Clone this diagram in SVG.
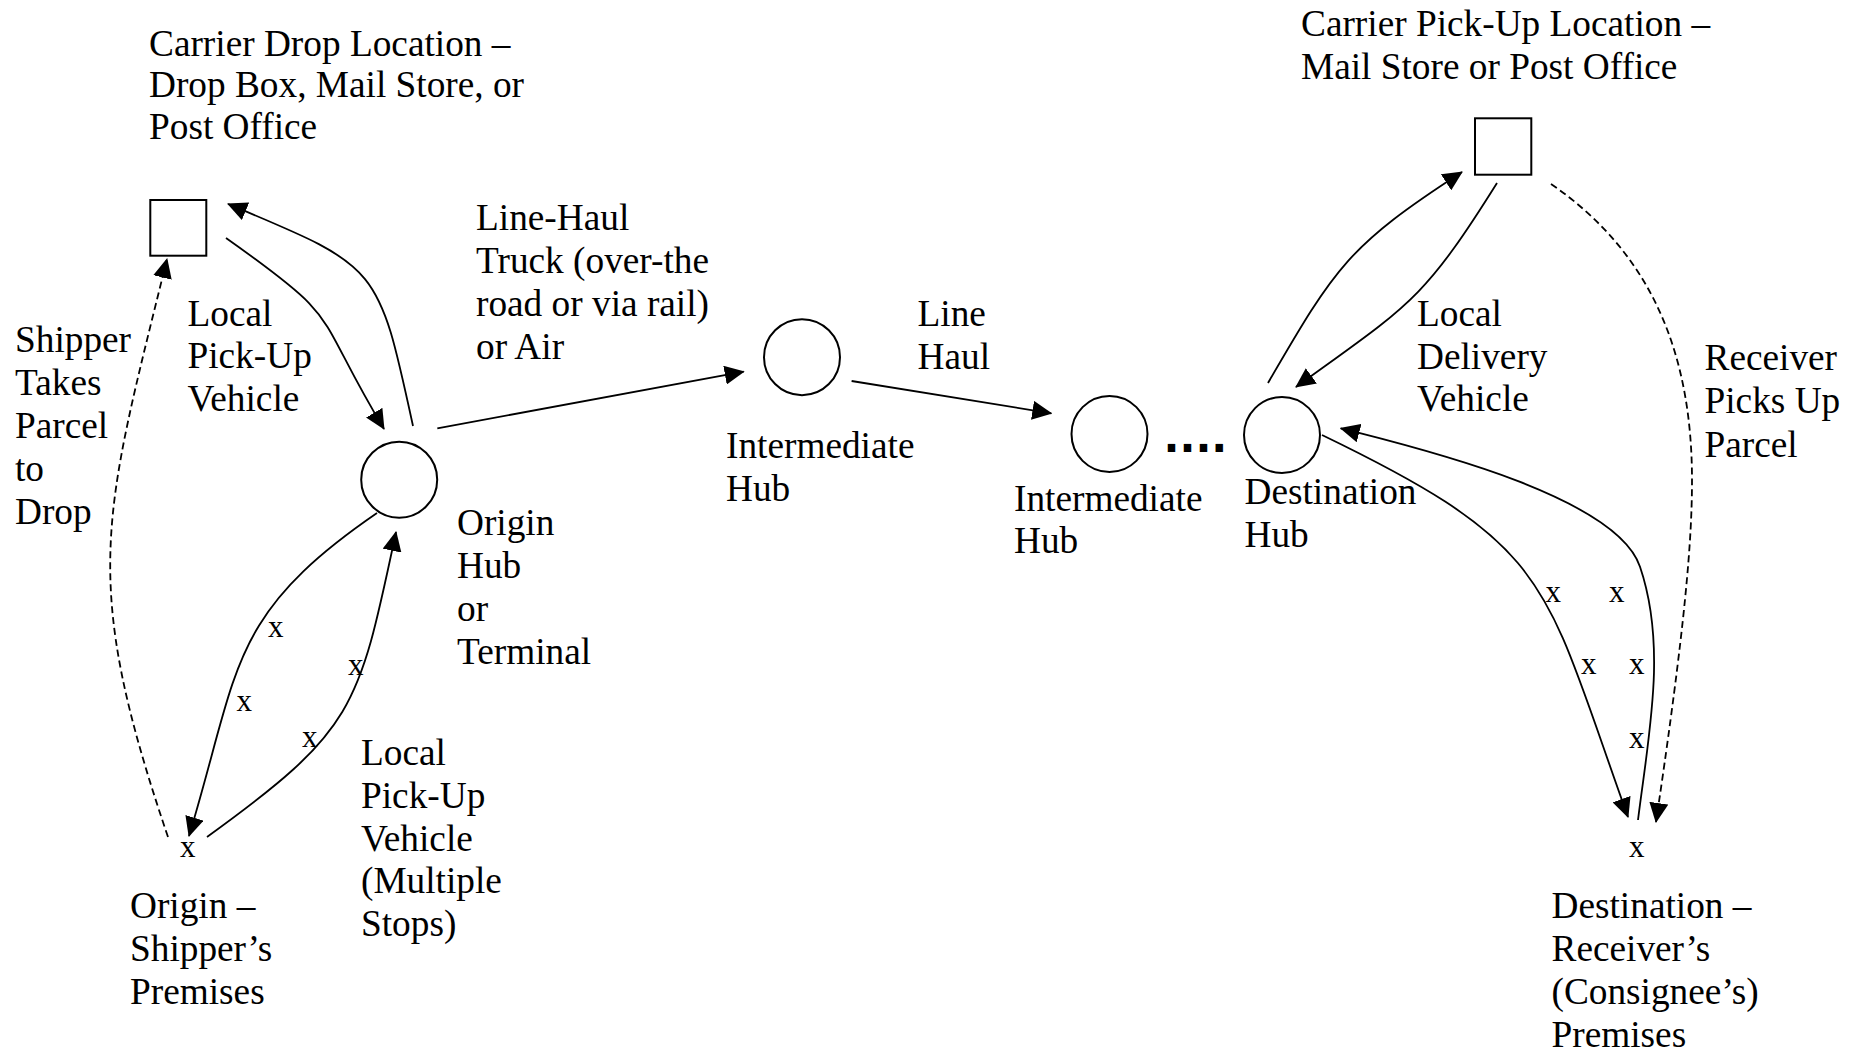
<svg xmlns="http://www.w3.org/2000/svg" width="1865" height="1054" viewBox="0 0 1865 1054">
<style>
text{font-family:"Liberation Serif","Times New Roman",serif;font-size:37.3px;fill:#000}
.sx{font-size:31px}
.dots{font-family:"DejaVu Sans",sans-serif;font-size:42px;font-weight:bold;letter-spacing:0px}
.node{fill:#fff;stroke:#000;stroke-width:2}
.c{fill:none;stroke:#000;stroke-width:1.8}
.d{stroke-dasharray:7 4}
</style>
<defs>
<marker id="ah" markerUnits="userSpaceOnUse" viewBox="0 0 20 19" markerWidth="20" markerHeight="19" refX="19" refY="9.5" orient="auto">
<path d="M0,0 L20,9.5 L0,19 z" fill="#000"/>
</marker>
</defs>
<rect width="1865" height="1054" fill="#fff"/>

<g id="connectors">
<path class="c" marker-end="url(#ah)" d="M226,238 C347,323.6 311,307.5 384,429"/>
<path class="c" marker-end="url(#ah)" d="M413,426 C378,264 379,267 228,204"/>
<path class="c" marker-end="url(#ah)" d="M377,513 C227,616 240,668 189,836"/>
<path class="c" marker-end="url(#ah)" d="M207,837 C355,730 358.5,709 396,532"/>
<path class="c d" marker-end="url(#ah)" d="M168,837 C80,578 103,519 167,259"/>
<path class="c" marker-end="url(#ah)" d="M437.3,428.3 L743.7,371.7"/>
<path class="c" marker-end="url(#ah)" d="M851.6,381 L1051.3,413.3"/>
<path class="c" marker-end="url(#ah)" d="M1268,383 C1336,266 1348,246 1462,172"/>
<path class="c" marker-end="url(#ah)" d="M1497,183 C1422.5,302 1409,305 1296,387"/>
<path class="c d" marker-end="url(#ah)" d="M1551,184 C1653,254 1692,356 1692,480 C1692,540 1685.4,624 1656,822"/>
<path class="c" marker-end="url(#ah)" d="M1322,435 C1556,548 1543,581 1628,817"/>
<path class="c" marker-end="url(#ah)" d="M1638,820 C1648.4,735.6 1667.3,647.2 1640,566.7 C1615,493 1401,444 1340.7,428.3"/>
</g>

<g id="edge-labels">
<text x="187.5"><tspan x="187.5" y="325.7">Local</tspan><tspan x="187.5" y="368.3">Pick-Up</tspan><tspan x="187.5" y="411">Vehicle</tspan></text>
<text x="15"><tspan x="15" y="351.5">Shipper</tspan><tspan x="15" y="394.5">Takes</tspan><tspan x="15" y="437.5">Parcel</tspan><tspan x="15" y="480.5">to</tspan><tspan x="15" y="523.5">Drop</tspan></text>
<text x="361"><tspan x="361" y="765">Local</tspan><tspan x="361" y="808">Pick-Up</tspan><tspan x="361" y="850.5">Vehicle</tspan><tspan x="361" y="893">(Multiple</tspan><tspan x="361" y="936">Stops)</tspan></text>
<text x="476"><tspan x="476" y="230">Line-Haul</tspan><tspan x="476" y="273">Truck (over-the</tspan><tspan x="476" y="316">road or via rail)</tspan><tspan x="476" y="359">or Air</tspan></text>
<text x="917.5"><tspan x="917.5" y="325.7">Line</tspan><tspan x="917.5" y="369">Haul</tspan></text>
<text x="1417"><tspan x="1417" y="326">Local</tspan><tspan x="1417" y="368.5">Delivery</tspan><tspan x="1417" y="411">Vehicle</tspan></text>
<text x="1704.5"><tspan x="1704.5" y="370">Receiver</tspan><tspan x="1704.5" y="413">Picks Up</tspan><tspan x="1704.5" y="456.5">Parcel</tspan></text>
<text class="sx" x="268" y="636.7">x</text>
<text class="sx" x="236.5" y="711">x</text>
<text class="sx" x="348" y="675">x</text>
<text class="sx" x="302" y="747.3">x</text>
<text class="sx" x="1545.5" y="601.7">x</text>
<text class="sx" x="1609" y="601.7">x</text>
<text class="sx" x="1581" y="674.3">x</text>
<text class="sx" x="1629" y="674.3">x</text>
<text class="sx" x="1629" y="748.3">x</text>
<text class="dots" x="1163.5" y="451.7">....</text>
</g>

<g id="drop-location">
<rect class="node" x="150.3" y="200" width="56" height="55.7"/>
<text x="149"><tspan x="149" y="55.7">Carrier Drop Location –</tspan><tspan x="149" y="97">Drop Box, Mail Store, or</tspan><tspan x="149" y="138.5">Post Office</tspan></text>
</g>

<g id="origin-hub">
<circle class="node" cx="399.2" cy="479.7" r="38"/>
<text x="457"><tspan x="457" y="535">Origin</tspan><tspan x="457" y="578">Hub</tspan><tspan x="457" y="621">or</tspan><tspan x="457" y="664">Terminal</tspan></text>
</g>

<g id="origin-premises">
<text class="sx" x="180" y="857.3">x</text>
<text x="130"><tspan x="130" y="918">Origin –</tspan><tspan x="130" y="961">Shipper’s</tspan><tspan x="130" y="1004">Premises</tspan></text>
</g>

<g id="intermediate-hub-1">
<circle class="node" cx="802" cy="357.2" r="38"/>
<text x="726"><tspan x="726" y="458">Intermediate</tspan><tspan x="726" y="500.5">Hub</tspan></text>
</g>

<g id="intermediate-hub-2">
<circle class="node" cx="1109.5" cy="434" r="38"/>
<text x="1014"><tspan x="1014" y="510.5">Intermediate</tspan><tspan x="1014" y="553">Hub</tspan></text>
</g>

<g id="destination-hub">
<circle class="node" cx="1282" cy="435" r="38"/>
<text x="1244.5"><tspan x="1244.5" y="503.5">Destination</tspan><tspan x="1244.5" y="546.5">Hub</tspan></text>
</g>

<g id="pickup-location">
<rect class="node" x="1475" y="118.3" width="56.3" height="56.4"/>
<text x="1301"><tspan x="1301" y="35.7">Carrier Pick-Up Location –</tspan><tspan x="1301" y="78.6">Mail Store or Post Office</tspan></text>
</g>

<g id="destination-premises">
<text class="sx" x="1629" y="856.7">x</text>
<text x="1551.5"><tspan x="1551.5" y="918">Destination –</tspan><tspan x="1551.5" y="961">Receiver’s</tspan><tspan x="1551.5" y="1004">(Consignee’s)</tspan><tspan x="1551.5" y="1047">Premises</tspan></text>
</g>
</svg>
